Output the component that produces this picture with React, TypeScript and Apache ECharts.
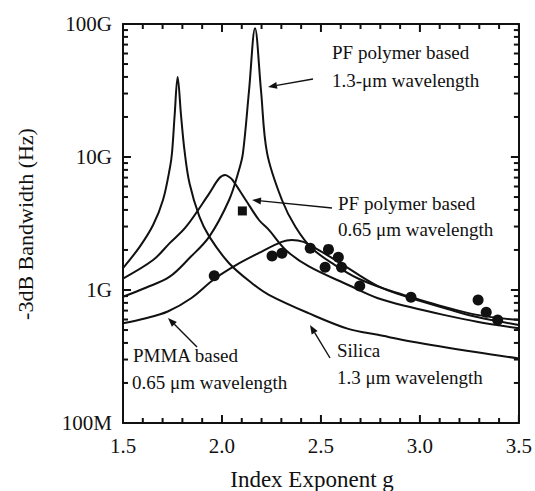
import React, { useEffect, useRef } from "react";
import * as echarts from "echarts";

// Index exponent g vs -3dB bandwidth (Hz)
const silicaCurve: [number, number][] = [
  [1.5, 1.46e9], [1.585, 2.12e9], [1.652, 3.08e9], [1.702, 4.75e9], [1.738, 8.45e9],
  [1.748, 1.09e10], [1.761, 2.07e10], [1.776, 4.0e10], [1.793, 2.07e10], [1.811, 1.11e10],
  [1.836, 6.34e9], [1.886, 3.56e9], [1.936, 2.52e9], [2.036, 1.59e9], [2.153, 1.12e9],
  [2.237, 9.2e8], [2.437, 6.7e8], [2.638, 5.1e8], [2.788, 4.6e8], [2.955, 4.1e8],
  [3.289, 3.4e8], [3.5, 3.06e8],
];
const pf13Curve: [number, number][] = [
  [1.5, 8.9e8], [1.615, 1.04e9], [1.736, 1.26e9], [1.836, 1.74e9], [1.936, 2.52e9],
  [2.036, 4.75e9], [2.086, 7.98e9], [2.106, 1.07e10], [2.137, 3.19e10], [2.167, 9.3e10],
  [2.197, 3.19e10], [2.228, 1.07e10], [2.303, 4.75e9], [2.371, 2.99e9], [2.454, 2.06e9],
  [2.571, 1.54e9], [2.688, 1.22e9], [2.838, 1.0e9], [2.955, 8.85e8], [3.12, 7.5e8],
  [3.289, 6.5e8], [3.5, 5.94e8],
];
const pf065Curve: [number, number][] = [
  [1.5, 1.22e9], [1.652, 1.68e9], [1.736, 2.25e9], [1.819, 2.99e9], [1.936, 5.33e9],
  [1.986, 6.92e9], [2.016, 7.33e9], [2.035, 7.1e9], [2.053, 6.72e9], [2.12, 4.75e9],
  [2.187, 3.36e9], [2.237, 2.83e9], [2.322, 2.0e9], [2.437, 1.51e9], [2.638, 1.09e9],
  [2.788, 8.67e8], [2.955, 7.41e8], [3.12, 6.5e8], [3.289, 5.78e8], [3.5, 5.15e8],
];
const pmmaCurve: [number, number][] = [
  [1.5, 5.62e8], [1.61, 6.11e8], [1.726, 6.89e8], [1.846, 8.71e8], [1.961, 1.21e9],
  [2.071, 1.54e9], [2.187, 1.9e9], [2.302, 2.3e9], [2.352, 2.38e9], [2.412, 2.3e9],
  [2.487, 2.0e9], [2.588, 1.63e9], [2.788, 1.07e9], [2.955, 8.7e8], [3.14, 7.2e8],
  [3.289, 6.26e8], [3.5, 5.46e8],
];
const measuredCircles: [number, number][] = [
  [1.961, 1.28e9], [2.253, 1.8e9], [2.303, 1.89e9], [2.446, 2.06e9], [2.538, 2.02e9],
  [2.588, 1.76e9], [2.521, 1.48e9], [2.604, 1.48e9], [2.696, 1.07e9], [2.955, 8.81e8],
  [3.294, 8.42e8], [3.335, 6.81e8], [3.393, 5.94e8],
];
const measuredSquares: [number, number][] = [[2.103, 3.93e9]];

const xMin = 1.5;
const xMax = 3.5;
const yMin = 1e8;
const yMax = 1e11;
const yTickLabels: Record<string, string> = { "8": "100M", "9": "1G", "10": "10G", "11": "100G" };
const xMajorTicks: number[] = [1.5, 2.0, 2.5, 3.0, 3.5];
const xMinorTicks: number[] = [
  1.6, 1.7, 1.8, 1.9, 2.1, 2.2, 2.3, 2.4, 2.6, 2.7, 2.8, 2.9, 3.1, 3.2, 3.3, 3.4,
];
const yMajorTicks: number[] = [1e8, 1e9, 1e10, 1e11];
const yMinorTicks: number[] = [
  2e8, 3e8, 4e8, 5e8, 6e8, 7e8, 8e8, 9e8,
  2e9, 3e9, 4e9, 5e9, 6e9, 7e9, 8e9, 9e9,
  2e10, 3e10, 4e10, 5e10, 6e10, 7e10, 8e10, 9e10,
];

const FONT = "'Liberation Serif', 'Times New Roman', serif";
const INK = "#111";
const MAJOR = 8;
const MINOR = 5;
const TICK_W = 2;

function arrow(x1: number, y1: number, x2: number, y2: number) {
  const dx = x2 - x1;
  const dy = y2 - y1;
  const len = Math.sqrt(dx * dx + dy * dy);
  const ux = dx / len;
  const uy = dy / len;
  const hl = 9;
  const hw = 3.5;
  const bx = x2 - ux * hl;
  const by = y2 - uy * hl;
  return [
    { type: "line", shape: { x1, y1, x2: bx, y2: by }, style: { stroke: INK, lineWidth: 1.4 }, z: 100 },
    {
      type: "polygon",
      shape: { points: [[x2, y2], [bx - uy * hw, by + ux * hw], [bx + uy * hw, by - ux * hw]] },
      style: { fill: INK },
      z: 100,
    },
  ];
}

function label(x: number, y: number, text: string, size = 19) {
  return {
    type: "text",
    x,
    y,
    z: 100,
    style: { text, font: `${size}px ${FONT}`, fill: INK, textAlign: "left", textVerticalAlign: "middle" },
  };
}

export default function App() {
  const ref = useRef<HTMLDivElement>(null);
  useEffect(() => {
    if (!ref.current) return;
    const chart = echarts.init(ref.current, undefined, { renderer: "svg" });
    const axisLine = { show: true, onZero: false, lineStyle: { color: INK, width: 2 } };
    const lineSeries = (name: string, data: [number, number][]) => ({
      name,
      type: "line",
      data,
      showSymbol: false,
      smooth: 0.35,
      lineStyle: { color: INK, width: 2 },
      z: 5,
    });
    chart.setOption({
      animation: false,
      backgroundColor: "#fff",
      grid: { left: 123, top: 24, width: 399, height: 399, containLabel: false },
      xAxis: [
        {
          type: "value",
          min: xMin,
          max: xMax,
          interval: 0.5,
          position: "bottom",
          axisLine,
          axisTick: { show: false },
          minorTick: { show: false },
          splitLine: { show: false },
          axisLabel: {
            margin: 12,
            fontFamily: FONT,
            fontSize: 21,
            color: INK,
            formatter: (v: number) => v.toFixed(1),
          },
        },
        {
          type: "value",
          min: xMin,
          max: xMax,
          interval: 0.5,
          position: "top",
          axisLine,
          axisTick: { show: false },
          minorTick: { show: false },
          splitLine: { show: false },
          axisLabel: { show: false },
        },
      ],
      yAxis: [
        {
          type: "log",
          logBase: 10,
          min: yMin,
          max: yMax,
          position: "left",
          axisLine,
          axisTick: { show: false },
          minorTick: { show: false },
          splitLine: { show: false },
          axisLabel: {
            margin: 11,
            fontFamily: FONT,
            fontSize: 21,
            color: INK,
            formatter: (v: number) => yTickLabels[String(Math.round(Math.log10(v)))] ?? "",
          },
        },
        {
          type: "log",
          logBase: 10,
          min: yMin,
          max: yMax,
          position: "right",
          axisLine,
          axisTick: { show: false },
          minorTick: { show: false },
          splitLine: { show: false },
          axisLabel: { show: false },
        },
      ],
      series: [
        lineSeries("Silica 1.3 μm", silicaCurve),
        lineSeries("PF polymer 1.3 μm", pf13Curve),
        lineSeries("PF polymer 0.65 μm", pf065Curve),
        lineSeries("PMMA 0.65 μm", pmmaCurve),
        {
          name: "measured",
          type: "scatter",
          data: measuredCircles,
          symbol: "circle",
          symbolSize: 11,
          itemStyle: { color: INK, opacity: 1 },
          z: 6,
        },
        {
          name: "measured square",
          type: "scatter",
          data: measuredSquares,
          symbol: "rect",
          symbolSize: 9,
          itemStyle: { color: INK, opacity: 1 },
          z: 6,
        },
      ],
    });

    // tick marks as small filled rects, placed through the chart's own scales
    const toPx = (x: number, y: number) =>
      chart.convertToPixel({ gridIndex: 0 }, [x, y]) as number[];
    const tick = (x: number, y: number, side: string, len: number) => {
      const p = toPx(x, y);
      let shape;
      if (side === "left") shape = { x: p[0], y: p[1] - TICK_W / 2, width: len, height: TICK_W };
      else if (side === "right") shape = { x: p[0] - len, y: p[1] - TICK_W / 2, width: len, height: TICK_W };
      else if (side === "bottom") shape = { x: p[0] - TICK_W / 2, y: p[1] - len, width: TICK_W, height: len };
      else shape = { x: p[0] - TICK_W / 2, y: p[1], width: TICK_W, height: len };
      return { type: "rect", silent: true, z: 120, shape, style: { fill: INK } };
    };
    const ticks: any[] = [
      ...yMajorTicks.flatMap((v) => [tick(xMin, v, "left", MAJOR), tick(xMax, v, "right", MAJOR)]),
      ...yMinorTicks.flatMap((v) => [tick(xMin, v, "left", MINOR), tick(xMax, v, "right", MINOR)]),
      ...xMajorTicks.flatMap((v) => [tick(v, yMin, "bottom", MAJOR), tick(v, yMax, "top", MAJOR)]),
      ...xMinorTicks.flatMap((v) => [tick(v, yMin, "bottom", MINOR), tick(v, yMax, "top", MINOR)]),
    ];

    chart.setOption({
      graphic: [
        ...ticks,
        {
          type: "text",
          x: 312,
          y: 479,
          style: {
            text: "Index Exponent g",
            font: `23px ${FONT}`,
            fill: INK,
            textAlign: "center",
            textVerticalAlign: "middle",
          },
        },
        {
          type: "text",
          x: 25,
          y: 224,
          rotation: Math.PI / 2,
          style: {
            text: "-3dB Bandwidth (Hz)",
            font: `22px ${FONT}`,
            fill: INK,
            textAlign: "center",
            textVerticalAlign: "middle",
          },
        },
        label(332, 52, "PF polymer based"),
        label(332, 80, "1.3-μm wavelength"),
        ...arrow(313, 79, 268, 87),
        label(338, 203, "PF polymer based"),
        label(338, 229, "0.65 μm wavelength"),
        ...arrow(332, 208, 252, 200),
        label(133, 355, "PMMA based"),
        label(132, 382, "0.65 μm wavelength"),
        ...arrow(197, 347, 168, 318),
        label(337, 350, "Silica"),
        label(337, 377, "1.3 μm wavelength"),
        ...arrow(330, 358, 310, 325),
      ],
    });
    return () => chart.dispose();
  }, []);
  return (
    <div
      ref={ref}
      style={{ position: "fixed", left: 0, top: 0, width: 535, height: 491, background: "#fff" }}
    />
  );
}
